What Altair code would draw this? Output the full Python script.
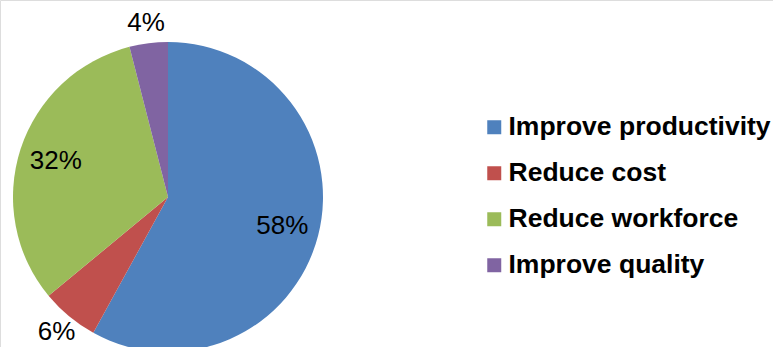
import altair as alt
import pandas as pd

categories = ["Improve productivity", "Reduce cost", "Reduce workforce", "Improve quality"]
values = [58, 6, 32, 4]
labels = ["58%", "6%", "32%", "4%"]
colors = ["#4F81BD", "#C0504D", "#9BBB59", "#8064A2"]

df = pd.DataFrame({
    "category": categories,
    "value": values,
    "label": labels,
    "idx": list(range(len(categories))),
})

FONT = "Liberation Sans"
CX, CY, R = 168, 197, 155
theta_scale = alt.Scale(domain=[0, 100])

pie = alt.Chart(df).mark_arc(radius=R, stroke=None).encode(
    theta=alt.Theta("value:Q", stack=True, scale=theta_scale),
    order=alt.Order("idx:O", sort="ascending"),
    x=alt.value(CX),
    y=alt.value(CY),
    color=alt.Color(
        "category:N",
        scale=alt.Scale(domain=categories, range=colors),
        sort=categories,
        legend=alt.Legend(
            title=None,
            orient="none",
            legendX=481,
            legendY=114,
            symbolType="square",
            symbolSize=196,
            symbolStrokeWidth=0,
            symbolOpacity=1,
            labelFont=FONT,
            labelFontSize=26.5,
            labelFontWeight="bold",
            labelColor="#000000",
            labelOffset=1,
            rowPadding=19,
            padding=0,
            labelLimit=400,
        ),
    ),
)

text_base = alt.Chart(df).transform_window(
    cum="sum(value)", sort=[alt.SortField("idx", order="ascending")]
).transform_calculate(
    mid="datum.cum - datum.value / 2"
).encode(
    theta=alt.Theta("mid:Q", stack=None, scale=theta_scale),
    x=alt.value(CX),
    y=alt.value(CY),
    text="label:N",
)

inside = text_base.mark_text(radius=118, font=FONT, fontSize=26, color="#000000",
                             align="center", baseline="middle").transform_filter(
    alt.datum.value >= 10)

outside = text_base.mark_text(radius=175, font=FONT, fontSize=26, color="#000000",
                              align="center", baseline="middle").transform_filter(
    alt.datum.value < 10)

chart = alt.layer(pie, inside, outside).properties(
    width=773, height=347,
    autosize=alt.AutoSizeParams(type="none"),
    padding=0,
).configure_view(stroke=None).configure(background="#ffffff")

chart.save("out.html", embed_options={"renderer": "svg", "actions": False})
